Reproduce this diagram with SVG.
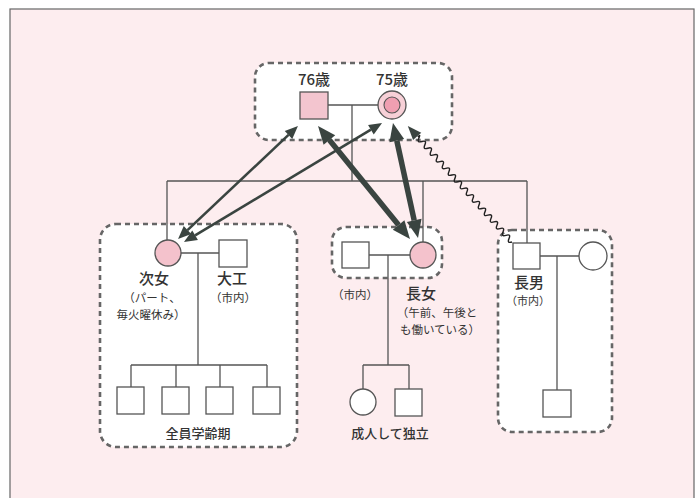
<svg xmlns="http://www.w3.org/2000/svg" width="696" height="498" viewBox="0 0 696 498">
<style>
.t{font-family:"Noto Sans CJK JP","Noto Sans",sans-serif;fill:#333;text-anchor:middle}
.big{font-size:15px;font-weight:500}
.sm{font-size:11.5px}
.box{fill:#fff;stroke:#666;stroke-width:2.6;stroke-dasharray:5 4}
.ln{fill:none;stroke:#555;stroke-width:1.3}
.sq{fill:#fff;stroke:#555;stroke-width:1.3}
.pk{fill:#f4c2cc;stroke:#555;stroke-width:1.3}
.ar{fill:none;stroke:#3a4440}
</style>
<defs>
<marker id="hThin" markerUnits="userSpaceOnUse" markerWidth="16" markerHeight="14" viewBox="0 -7 16 14" refX="0" refY="0" orient="auto-start-reverse" overflow="visible">
<path d="M0,-5.5 L13,0 L0,5.5 Z" fill="#3a4440"/>
</marker>
<marker id="hThick" markerUnits="userSpaceOnUse" markerWidth="20" markerHeight="18" viewBox="0 -9 20 18" refX="0" refY="0" orient="auto-start-reverse" overflow="visible">
<path d="M0,-7.5 L18,0 L0,7.5 Z" fill="#3a4440"/>
</marker>
</defs>
<rect x="0" y="0" width="696" height="498" fill="#fff"/>
<rect x="10" y="9" width="684" height="500" fill="#fdedef" stroke="#666" stroke-width="1.2"/>

<g id="groups">
<rect class="box" x="255" y="63" width="197" height="77" rx="14"/>
<rect class="box" x="100" y="224" width="197" height="223" rx="16"/>
<rect class="box" x="332" y="227" width="110" height="51" rx="14"/>
<rect class="box" x="498" y="230" width="114" height="202" rx="14"/>
</g>

<g id="lines">
<path class="ln" d="M328,105 H378 M352,105 V181 M167,181 H527 M167,181 V240 M423,181 V242 M527,181 V243"/>
<path class="ln" d="M181,253 H219 M198,253 V365 M131,365 H267 M131,365 V387 M176,365 V387 M220,365 V387 M267,365 V387"/>
<path class="ln" d="M369,255 H410 M388,255 V365 M363,365 H409 M363,365 V389 M409,365 V389"/>
<path class="ln" d="M540,256 H579 M557,256 V390"/>
</g>

<g id="grandfather">
<rect x="300" y="92" width="28" height="27" fill="#f3c5cf" stroke="#555" stroke-width="1.3"/>
<text class="t big" x="314" y="85">76歳</text>
</g>
<g id="grandmother">
<circle cx="392" cy="105" r="14" fill="#f7d0d7" stroke="#555" stroke-width="1.3"/>
<circle cx="392" cy="105" r="8" fill="#ef9fb1" stroke="#555" stroke-width="1.1"/>
<text class="t big" x="392" y="85">75歳</text>
</g>

<g id="second-daughter">
<circle class="pk" cx="168" cy="253" r="13"/>
<text class="t big" x="154" y="284">次女</text>
<text class="t sm" x="152" y="301.5">（パート、</text>
<text class="t sm" x="151" y="318.5">毎火曜休み）</text>
</g>
<g id="carpenter">
<rect class="sq" x="219" y="240" width="28" height="27"/>
<text class="t big" x="232" y="284">大工</text>
<text class="t sm" x="233" y="301.5">（市内）</text>
</g>
<g id="grandchildren-left">
<rect class="sq" x="117" y="387" width="27" height="27"/>
<rect class="sq" x="162" y="387" width="27" height="27"/>
<rect class="sq" x="206" y="387" width="27" height="27"/>
<rect class="sq" x="253" y="387" width="27" height="27"/>
<text class="t" x="198" y="438" font-size="13" font-weight="500">全員学齢期</text>
</g>

<g id="eldest-daughter-husband">
<rect class="sq" x="342" y="242" width="27" height="26"/>
<text class="t sm" x="355" y="299">（市内）</text>
</g>
<g id="eldest-daughter">
<circle class="pk" cx="423" cy="255" r="13"/>
<text class="t big" x="421" y="299">長女</text>
<text class="t sm" x="437" y="317">（午前、午後と</text>
<text class="t sm" x="440" y="334">も働いている）</text>
</g>
<g id="grandchildren-middle">
<circle class="sq" cx="363" cy="402" r="13"/>
<rect class="sq" x="395" y="389" width="27" height="27"/>
<text class="t" x="390" y="438" font-size="13" font-weight="500">成人して独立</text>
</g>

<g id="eldest-son">
<rect class="sq" x="513" y="243" width="27" height="26"/>
<text class="t big" x="529" y="287.5">長男</text>
<text class="t" x="528" y="305" font-size="11">（市内）</text>
</g>
<g id="eldest-son-wife">
<circle class="sq" cx="593" cy="256" r="14"/>
</g>
<g id="eldest-son-child">
<rect class="sq" x="543" y="390" width="28" height="27"/>
</g>

<g id="connectors">
<line class="ar" stroke-width="2.6" x1="288.5" y1="134.9" x2="187.5" y2="230.1" marker-start="url(#hThin)" marker-end="url(#hThin)"/>
<line class="ar" stroke-width="2.6" x1="370.9" y1="129.7" x2="195.1" y2="235.3" marker-start="url(#hThin)" marker-end="url(#hThin)"/>
<line class="ar" stroke-width="5.5" x1="329.4" y1="140" x2="398.6" y2="225" marker-start="url(#hThick)" marker-end="url(#hThick)"/>
<line class="ar" stroke-width="5.5" x1="396.8" y1="140.6" x2="414.2" y2="220.4" marker-start="url(#hThick)" marker-end="url(#hThick)"/>
<g transform="translate(512,242) rotate(-131.9)">
<path fill="none" stroke="#222" stroke-width="1.4" d="M0,0 q2.25,-5 4.5,0 t4.5,0 t4.5,0 t4.5,0 t4.5,0 t4.5,0 t4.5,0 t4.5,0 t4.5,0 t4.5,0 t4.5,0 t4.5,0 t4.5,0 t4.5,0 t4.5,0 t4.5,0 t4.5,0 t4.5,0 t4.5,0 t4.5,0 t4.5,0 t4.5,0 t4.5,0 t4.5,0 t4.5,0 t4.5,0 t4.5,0 t4.5,0 t4.5,0 t4.5,0 t4.5,0 t1.5,0"/>
<path d="M142,-5.5 L156,0 L142,5.5 Z" fill="#3a4440"/>
</g>
</g>
</svg>
